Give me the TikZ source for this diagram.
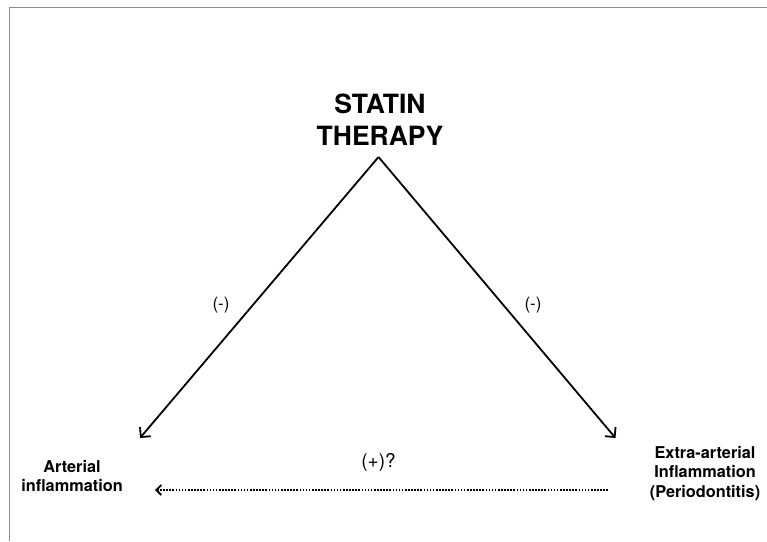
\documentclass[tikz,border=0pt]{standalone}
\usepackage{fontspec}
\setmainfont{TeX Gyre Heros}
\usetikzlibrary{arrows.meta}
\begin{document}
\begin{tikzpicture}[x=1pt,y=-1pt,
  lbl/.style={inner sep=0pt, align=center, text=black},
  boldlbl/.style={lbl, font=\bfseries\fontsize{16.3}{19.5}\selectfont},
  signlbl/.style={lbl, font=\fontsize{17}{19}\selectfont},
  solidarrow/.style={line width=1.8pt, -{Straight Barb[length=7pt,width=14pt,line width=1.8pt]}},
  dotarrow/.style={line width=2pt, black, dash pattern=on 1.6pt off 1.5pt, -{Straight Barb[length=5pt,width=10pt,line width=1.8pt]}},
  frame/.style={draw=black!45, line width=1.2pt}]
\useasboundingbox (0,0) rectangle (767,541);
\fill[white] (0,0) rectangle (767,541);
\draw[frame] (9.3,541) -- (9.3,7.5) -- (767,7.5);

\node[lbl, font=\bfseries\fontsize{26.5}{31.5}\selectfont] (statin) at (380,119.5) {STATIN\\THERAPY};
\node[boldlbl] (arterial) at (72,476) {Arterial\\inflammation};
\node[boldlbl] (extra) at (705,473.5) {Extra-arterial\\Inflammation\\(Periodontitis)};
\node[signlbl] (mleft) at (221,305) {(-)};
\node[signlbl] (mright) at (533,305) {(-)};
\node[signlbl, font=\fontsize{19}{21}\selectfont] (plus) at (378.5,462) {(+)?};

\coordinate (apex) at (378.5,157);
\coordinate (ltip) at (140,438);
\coordinate (rtip) at (615.5,438);
\coordinate (dstart) at (608,490);
\coordinate (dtip) at (155,490);

\draw[solidarrow] (apex) -- (ltip);
\draw[solidarrow] (apex) -- (rtip);
\draw[dotarrow] (dstart) -- (dtip);
\end{tikzpicture}
\end{document}
